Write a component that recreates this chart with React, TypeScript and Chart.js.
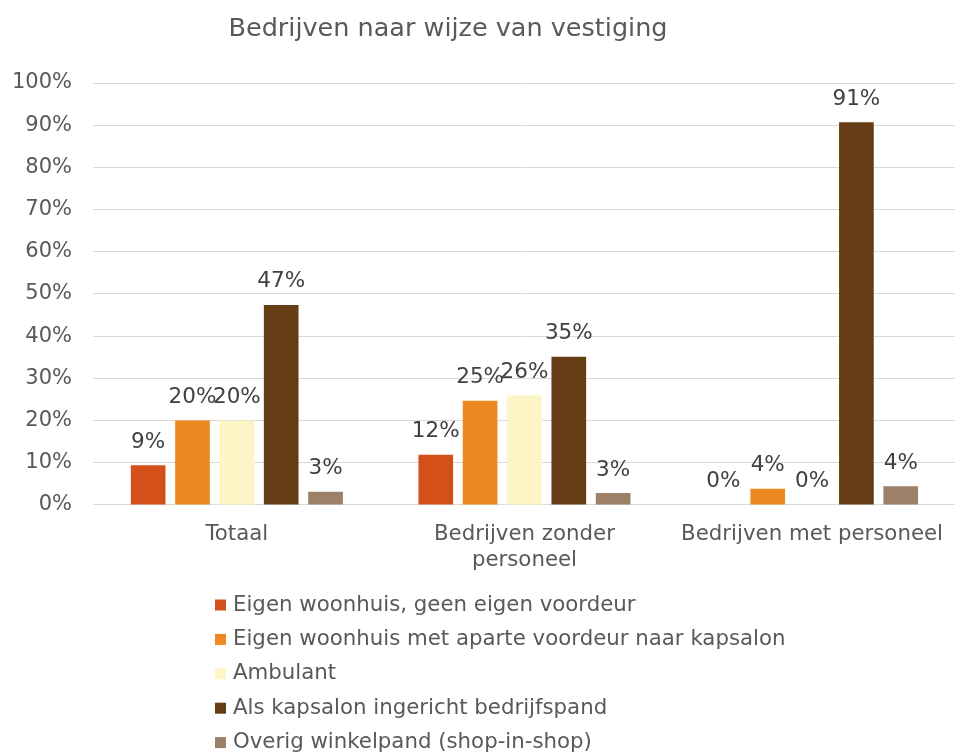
import React, { useEffect, useRef } from "react";
import { Chart, registerables } from "chart.js";

Chart.register(...registerables);

const chartTitle = "Bedrijven naar wijze van vestiging";
const categories: (string | string[])[] = [
  "Totaal",
  ["Bedrijven zonder", "personeel"],
  "Bedrijven met personeel",
];
const seriesNames = [
  "Eigen woonhuis, geen eigen voordeur",
  "Eigen woonhuis met aparte voordeur naar kapsalon",
  "Ambulant",
  "Als kapsalon ingericht bedrijfspand",
  "Overig winkelpand (shop-in-shop)",
];
const eigenGeenVoordeur = [9.4, 11.9, 0];
const eigenApartVoordeur = [20.0, 24.7, 3.8];
const ambulant = [20.0, 25.9, 0];
const bedrijfspand = [47.4, 35.1, 90.7];
const overigWinkelpand = [3.1, 2.8, 4.4];
const seriesValues = [eigenGeenVoordeur, eigenApartVoordeur, ambulant, bedrijfspand, overigWinkelpand];
const seriesColors = ["#D4501A", "#EE8820", "#FDF5C5", "#643D15", "#9C8068"];
const yTicks = [0, 10, 20, 30, 40, 50, 60, 70, 80, 90, 100];

const FONT = "'DejaVu Sans', Verdana, sans-serif";

const titlePlugin = {
  id: "customTitle",
  afterDraw(chart: any) {
    const ctx = chart.ctx;
    ctx.save();
    ctx.font = `25.5px ${FONT}`;
    ctx.fillStyle = "#595959";
    ctx.textAlign = "center";
    ctx.textBaseline = "middle";
    ctx.fillText(chartTitle, 448, 29);
    ctx.restore();
  },
};

const valueLabelPlugin = {
  id: "valueLabels",
  afterDatasetsDraw(chart: any) {
    const ctx = chart.ctx;
    ctx.save();
    ctx.font = `21.5px ${FONT}`;
    ctx.fillStyle = "#404040";
    ctx.textAlign = "center";
    ctx.textBaseline = "middle";
    chart.data.datasets.forEach((ds: any, di: number) => {
      const meta = chart.getDatasetMeta(di);
      meta.data.forEach((el: any, i: number) => {
        const v = ds.data[i];
        ctx.fillText(Math.round(v) + "%", el.x, el.y - 23);
      });
    });
    ctx.restore();
  },
};

const legendPlugin = {
  id: "vertLegend",
  afterDraw(chart: any) {
    const ctx = chart.ctx;
    ctx.save();
    ctx.font = `21.3px ${FONT}`;
    ctx.textBaseline = "middle";
    ctx.textAlign = "left";
    chart.data.datasets.forEach((ds: any, i: number) => {
      const cy = 605 + i * 34.4;
      ctx.fillStyle = ds.backgroundColor;
      ctx.fillRect(215, cy - 5.5, 11, 11);
      ctx.fillStyle = "#595959";
      ctx.fillText(ds.label, 233, cy);
    });
    ctx.restore();
  },
};

export default function App() {
  const canvasRef = useRef<HTMLCanvasElement | null>(null);

  useEffect(() => {
    if (!canvasRef.current) return;
    Chart.defaults.font.family = FONT;
    const chart = new Chart(canvasRef.current, {
      type: "bar",
      data: {
        labels: categories,
        datasets: seriesNames.map((name, i) => ({
          label: name,
          data: seriesValues[i],
          backgroundColor: seriesColors[i],
          borderWidth: 0,
          categoryPercentage: 0.771,
          barPercentage: 0.782,
        })),
      },
      options: {
        animation: false,
        responsive: true,
        maintainAspectRatio: false,
        layout: { padding: { top: 83, left: -9, right: 0, bottom: 164 } },
        plugins: {
          legend: { display: false },
          title: { display: false },
          tooltip: { enabled: false },
        },
        scales: {
          x: {
            grid: { display: false, drawTicks: false },
            border: { display: true, color: "#D9D9D9", width: 1 },
            ticks: { color: "#595959", font: { size: 21.3, family: FONT }, padding: 17, maxRotation: 0, autoSkip: false },
          },
          y: {
            min: 0,
            max: 100,
            afterBuildTicks: (scale: any) => {
              scale.ticks = yTicks.map((v) => ({ value: v }));
            },
            grid: { color: "#D9D9D9", lineWidth: 1, drawTicks: false },
            border: { display: false },
            ticks: {
              color: "#595959",
              font: { size: 21, family: FONT },
              padding: 21,
              callback: (v: any) => v + "%",
            },
          },
        },
      },
      plugins: [titlePlugin, valueLabelPlugin, legendPlugin],
    });
    return () => chart.destroy();
  }, []);

  return (
    <div style={{ position: "absolute", left: 0, top: 0, width: 955, height: 754, overflow: "hidden", background: "#fff" }}>
      <div style={{ position: "relative", width: 960, height: 754 }}>
        <canvas ref={canvasRef} />
      </div>
    </div>
  );
}
